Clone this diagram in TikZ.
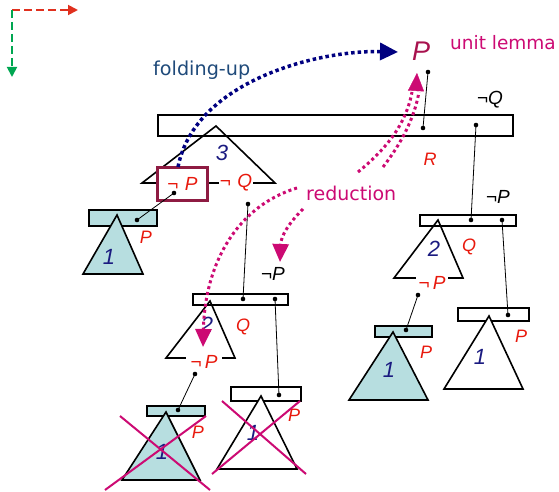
\documentclass[tikz,border=0pt]{standalone}
\usepackage{fontspec}
\setmainfont{Liberation Sans}
\newfontfamily\dvsans{DejaVu Sans}
\usetikzlibrary{arrows.meta}
\definecolor{labred}{HTML}{E8180C}
\definecolor{numblue}{HTML}{1A1A80}
\definecolor{navyarrow}{HTML}{000080}
\definecolor{magred}{HTML}{CC0A73}
\definecolor{pcol}{HTML}{A8124E}
\definecolor{boxcol}{HTML}{8E1B42}
\definecolor{cyanfill}{HTML}{B7DEE0}
\definecolor{foldcol}{HTML}{1F4A7A}
\definecolor{dashred}{HTML}{E0301E}
\definecolor{dashgreen}{HTML}{00A651}
\begin{document}
\begin{tikzpicture}[x=1pt,y=-1pt,
  barsty/.style={draw=black, line width=1.6pt},
  tristy/.style={draw=black, line width=1.6pt, line join=miter},
  conn/.style={line width=0.8pt},
  dotsty/.style={fill=black},
  redlab/.style={text=labred, inner sep=1pt, font=\itshape\fontsize{18}{20}\selectfont},
  redneg/.style={text=labred, inner sep=1pt, fill=white, font=\itshape\fontsize{19}{21}\selectfont},
  blklab/.style={text=black, inner sep=1pt, font=\itshape\fontsize{19}{21}\selectfont},
  numlab/.style={text=numblue, inner sep=1pt, font=\itshape\fontsize{22}{24}\selectfont},
  bluedot/.style={draw=navyarrow, line width=3.5pt, dash pattern=on 3.5pt off 3pt},
  magdot/.style={draw=magred, line width=3pt, dash pattern=on 3pt off 3pt},
  crosssty/.style={draw=magred, line width=2pt},
  magtip/.style={-{Triangle[length=18pt,width=16pt]}},
]
\useasboundingbox (0,0) rectangle (559,492);

% top-left axes
\coordinate (ax0) at (12,10);
\coordinate (axx) at (78,10);
\coordinate (axy) at (12,77);
\draw[dashred, line width=1.8pt, dash pattern=on 8pt off 4pt, -{Triangle[length=10pt,width=10pt]}] (ax0) -- (axx);
\draw[dashgreen, line width=1.8pt, dash pattern=on 8pt off 4pt, -{Triangle[length=10pt,width=10pt]}] (ax0) -- (axy);

% texts
\node[text=pcol, inner sep=0pt, font=\itshape\fontsize{27}{29}\selectfont] (bigP) at (421,51) {P};
\node[text=magred, inner sep=0pt, anchor=base west, font=\dvsans\fontsize{18.5}{20}\selectfont] (unitlemma) at (450,50) {unit lemma};
\node[text=foldcol, inner sep=0pt, anchor=base west, font=\dvsans\fontsize{19.2}{21}\selectfont] (folding) at (153,76) {folding-up};

% top bar
\draw[barsty] (158,115) rectangle (513,136);

% tree 3 (left, under top bar)
\draw[tristy] (142,183) -- (216,126) -- (275,183) -- cycle;
\node[numlab] (n3) at (222,153) {3};
\node[draw=boxcol, line width=2.4pt, fill=white, minimum width=50pt, minimum height=33pt, inner sep=0pt,
      text=labred, font=\itshape\fontsize{19}{21}\selectfont] (negPbox) at (182.5,184) {¬\,\,P};
\node[redneg] (negQa) at (236,183) {¬\,\,Q};

% left cyan tree
\draw[barsty, fill=cyanfill] (89,210) rectangle (157,226);
\draw[tristy, fill=cyanfill] (83,274) -- (117,215) -- (143,274) -- cycle;
\node[numlab] (n1a) at (109,257) {1};
\node[redlab] (Pa) at (146,237) {P};

% middle bar and tree 2
\draw[barsty] (193,294) rectangle (288,305);
\draw[tristy] (166,358) -- (210,301) -- (235,358) -- cycle;
\node[numlab] (n2a) at (207,325) {2};
\node[redlab] (Qa) at (243,327) {Q};
\node[redneg, inner xsep=5pt] (negPb) at (204,362) {¬\,P};
\node[blklab] (negPc) at (273,274) {¬P};

% bottom-left cyan tree (crossed)
\draw[barsty, fill=cyanfill] (147,406) rectangle (205,416);
\draw[tristy, fill=cyanfill] (122,480) -- (166,412) -- (200,480) -- cycle;
\node[numlab] (n1b) at (162,452) {1};
\node[redlab] (Pb) at (198,432) {P};

% bottom-middle white tree (crossed)
\draw[barsty, fill=white] (231,387) rectangle (301,401);
\draw[tristy, fill=white] (217,469) -- (261,396) -- (297,469) -- cycle;
\node[numlab] (n1c) at (253,433) {1};
\node[redlab] (Pc) at (294,415) {P};

% right bar and tree 2
\draw[barsty] (420,215) rectangle (516,226);
\draw[tristy] (394,278) -- (438,220) -- (463,278) -- cycle;
\node[numlab] (n2b) at (434,249) {2};
\node[redlab] (Qb) at (469,247) {Q};
\node[redneg, inner xsep=3pt] (negPd) at (432,283) {¬\,P};
\node[blklab] (negPe) at (498,197) {¬P};
\node[blklab] (negQb) at (490,100) {¬Q};
\node[redlab] (Rlab) at (430,159) {R};

% right cyan tree
\draw[barsty, fill=cyanfill] (375,326) rectangle (432,337);
\draw[tristy, fill=cyanfill] (349,400) -- (393,332) -- (428,400) -- cycle;
\node[numlab] (n1d) at (389,370) {1};
\node[redlab] (Pd) at (426,352) {P};

% right white tree
\draw[barsty, fill=white] (458,308) rectangle (529,321);
\draw[tristy, fill=white] (444,389) -- (489,316) -- (523,389) -- cycle;
\node[numlab] (n1e) at (480,357) {1};
\node[redlab] (Pe) at (521,336) {P};

% connectors with dots
\coordinate (c1a) at (428,72);  \coordinate (c1b) at (423,128);
\coordinate (c2a) at (476,125); \coordinate (c2b) at (471,220);
\coordinate (c3a) at (174,193); \coordinate (c3b) at (137,220);
\coordinate (c4a) at (248,204); \coordinate (c4b) at (243,299);
\coordinate (c5a) at (275,299); \coordinate (c5b) at (279,395);
\coordinate (c6a) at (195,374); \coordinate (c6b) at (178,410);
\coordinate (c7a) at (502,220); \coordinate (c7b) at (508,315);
\coordinate (c8a) at (418,295); \coordinate (c8b) at (406,330);
\foreach \a/\b in {c1a/c1b,c2a/c2b,c3a/c3b,c4a/c4b,c5a/c5b,c6a/c6b,c7a/c7b,c8a/c8b}{
  \draw[conn] (\a) -- (\b);
  \fill[dotsty] (\a) circle (2.3pt);
  \fill[dotsty] (\b) circle (2.3pt);
}

% crosses
\draw[crosssty] (105,490) -- (206,416);
\draw[crosssty] (120,416) -- (210,490);
\draw[crosssty] (212,474) -- (300,401);
\draw[crosssty] (222,401) -- (306,474);

% folding-up arrow
\coordinate (fstart) at (178,167);
\coordinate (fend) at (398,52);
\draw[bluedot, -{Triangle[length=18pt,width=17pt]}] (fstart) .. controls (195,80) and (320,50) .. (fend);

% reduction
\node[text=magred, inner sep=0pt, anchor=base west, font=\dvsans\fontsize{19}{21}\selectfont] (reduction) at (306,200) {reduction};
\coordinate (rupA) at (358,172);
\coordinate (rupB) at (383,167);
\coordinate (rtipbase) at (416,91);
\coordinate (rtip) at (417,73);
\draw[magdot] (rupA) .. controls (385,150) and (406,125) .. (412,92);
\draw[magdot] (rupB) .. controls (400,145) and (414,120) .. (419,92);
\draw[magred, -{Triangle[length=18pt,width=16pt]}] (rtipbase) -- (rtip);

\coordinate (rbigA) at (297,188);
\coordinate (rbigB) at (203,347);
\draw[magdot, magtip] (rbigA) .. controls (240,205) and (205,260) .. (rbigB);
\coordinate (rsmA) at (303,209);
\coordinate (rsmB) at (280,262);
\draw[magdot, magtip] (rsmA) .. controls (290,222) and (281,235) .. (rsmB);
\end{tikzpicture}
\end{document}
